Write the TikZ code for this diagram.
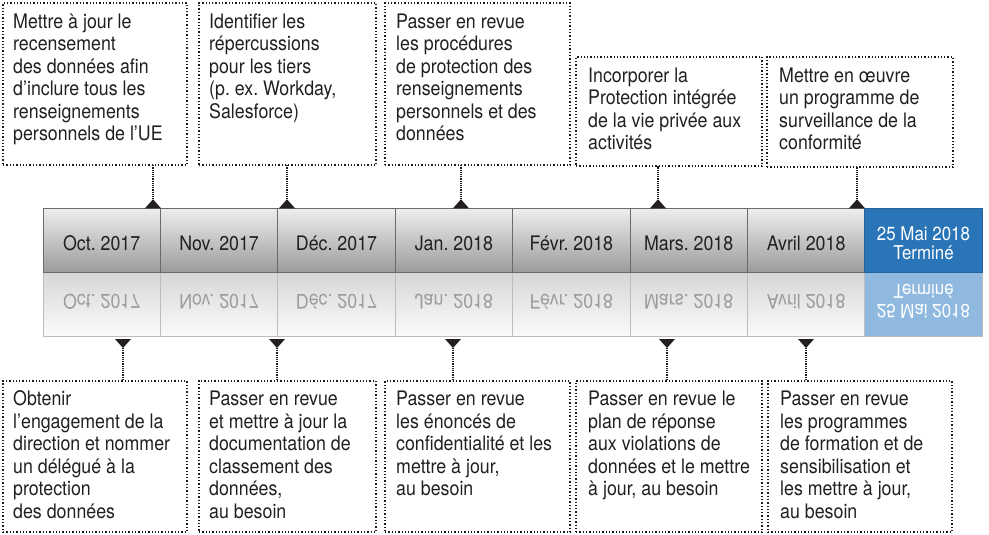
\documentclass[tikz,border=0pt]{standalone}
\usepackage{fontspec}
\setmainfont{TeX Gyre Heros}[FakeStretch=0.89]
\usepackage{graphicx}
\frenchspacing
\definecolor{txt}{HTML}{231F20}
\definecolor{gtop}{HTML}{EEEEEE}
\definecolor{gbot}{HTML}{9C9C9C}
\definecolor{rtop}{HTML}{D6D6D6}
\definecolor{rbot}{HTML}{FBFBFB}
\definecolor{gline}{HTML}{6A6A6A}
\definecolor{rline}{HTML}{BDBDBD}
\definecolor{blueA}{HTML}{2A74B8}
\definecolor{blueB}{HTML}{8FB9DF}
\definecolor{rtxt}{HTML}{9C9C9C}
\definecolor{dotc}{HTML}{1A1A1A}
\newcommand{\mainfs}{\fontsize{20pt}{22.5pt}\selectfont}
\newcommand{\bluelabel}{\begin{tabular}{@{}c@{}}25 Mai 2018\\Terminé\end{tabular}}
\tikzset{
  cellA/.style={draw=gline, line width=0.8pt, top color=gtop, bottom color=gbot,
    minimum width=117.4pt, minimum height=64pt, anchor=north west, inner sep=0pt, outer sep=0pt},
  cellB/.style={draw=rline, line width=0.8pt, top color=rtop, bottom color=rbot,
    minimum width=117.4pt, minimum height=64pt, anchor=north west, inner sep=0pt, outer sep=0pt},
  cellBlueA/.style={draw=blueA!85!black, line width=0.8pt, fill=blueA,
    minimum width=117.4pt, minimum height=64pt, anchor=north west, inner sep=0pt, outer sep=0pt},
  cellBlueB/.style={draw=rline, line width=0.8pt, fill=blueB,
    minimum width=117.4pt, minimum height=64pt, anchor=north west, inner sep=0pt, outer sep=0pt},
  monthlab/.style={font=\mainfs, text=txt, inner sep=0pt, anchor=base},
  monthref/.style={font=\mainfs, text=rtxt, inner sep=0pt, anchor=north},
  bluelab/.style={font=\fontsize{19pt}{18pt}\selectfont, text=white, inner sep=0pt},
  frame/.style={draw=dotc, line width=1.3pt, dash pattern=on 1.3pt off 2pt,
    anchor=north west, inner sep=0pt, outer sep=0pt},
  boxtext/.style={font=\mainfs, text=txt, inner sep=0pt, anchor=base west},
  conn/.style={draw=dotc, line width=1.4pt, dash pattern=on 1.1pt off 1.1pt},
  tri/.style={fill=txt}
}
\begin{document}
\begin{tikzpicture}[x=1pt,y=-1pt]
\useasboundingbox (0,0) rectangle (989,535);

% reflection cells
\foreach \i in {1,...,7}
  \node[cellB] (r\i) at ({43+(\i-1)*117.4},272) {};
\node[cellBlueB] (r8) at ({43+7*117.4},272) {};
% top cells
\foreach \i in {1,...,7}
  \node[cellA] (c\i) at ({43+(\i-1)*117.4},208) {};
\node[cellBlueA] (c8) at ({43+7*117.4},208) {};

% month labels and reflections
\foreach \i/\m in {1/Oct. 2017,2/Nov. 2017,3/Déc. 2017,4/Jan. 2018,5/Févr. 2018,6/Mars. 2018,7/Avril 2018}{
  \node[monthlab] (l\i) at ([yshift=22pt]c\i.south) {\m};
  \node[monthref] (m\i) at ([yshift=-22pt]r\i.north) {\scalebox{1}[-1]{\m}};
}
\node[bluelab] (l8) at ([yshift=-5.4pt]c8.center) {\bluelabel};
\node[bluelab] (m8) at ([yshift=5.4pt]r8.center) {\scalebox{1}[-1]{\bluelabel}};

% top boxes
\node[frame, minimum width=184pt, minimum height=162pt] (T1) at (3,3) {};
\node[frame, minimum width=177pt, minimum height=162pt] (T2) at (199,3) {};
\node[frame, minimum width=185pt, minimum height=162pt] (T3) at (385,3) {};
\node[frame, minimum width=186pt, minimum height=109pt] (T4) at (576,57) {};
\node[frame, minimum width=186pt, minimum height=110pt] (T5) at (767,57) {};

\node[boxtext] (T1t) at (13,28.3) {\parbox[t]{180pt}{\raggedright Mettre à jour le\\recensement\\des données afin\\d’inclure tous les\\renseignements\\personnels de l’UE}};
\node[boxtext] (T2t) at (209,28.3) {\parbox[t]{170pt}{\raggedright Identifier les\\répercussions\\pour les tiers\\(p. ex. Workday,\\Salesforce)}};
\node[boxtext] (T3t) at (396,28.3) {\parbox[t]{175pt}{\raggedright Passer en revue\\les procédures\\de protection des\\renseignements\\personnels et des\\données}};
\node[boxtext] (T4t) at (588,82.3) {\parbox[t]{175pt}{\raggedright Incorporer la\\Protection intégrée\\de la vie privée aux\\activités}};
\node[boxtext] (T5t) at (779,82.3) {\parbox[t]{175pt}{\raggedright Mettre en œuvre\\un programme de\\surveillance de la\\conformité}};

% bottom boxes
\node[frame, minimum width=184pt, minimum height=151pt] (B1) at (3,381) {};
\node[frame, minimum width=177pt, minimum height=151pt] (B2) at (199,381) {};
\node[frame, minimum width=185pt, minimum height=151pt] (B3) at (385,381) {};
\node[frame, minimum width=186pt, minimum height=151pt] (B4) at (576,381) {};
\node[frame, minimum width=184pt, minimum height=151pt] (B5) at (768,381) {};

\node[boxtext] (B1t) at (13,405.7) {\parbox[t]{180pt}{\raggedright Obtenir\\l’engagement de la\\direction et nommer\\un délégué à la\\protection\\des données}};
\node[boxtext] (B2t) at (209,405.7) {\parbox[t]{170pt}{\raggedright Passer en revue\\et mettre à jour la\\documentation de\\classement des\\données,\\au besoin}};
\node[boxtext] (B3t) at (396,405.7) {\parbox[t]{175pt}{\raggedright Passer en revue\\les énoncés de\\confidentialité et les\\mettre à jour,\\au besoin}};
\node[boxtext] (B4t) at (588,405.7) {\parbox[t]{175pt}{\raggedright Passer en revue le\\plan de réponse\\aux violations de\\données et le mettre\\à jour, au besoin}};
\node[boxtext] (B5t) at (780,405.7) {\parbox[t]{175pt}{\raggedright Passer en revue\\les programmes\\de formation et de\\sensibilisation et\\les mettre à jour,\\au besoin}};

% upward markers and connectors
\foreach \x/\b [count=\k] in {153/T1,287/T2,461/T3,658/T4,857/T5}{
  \coordinate (u\k) at (\x,208.3);
  \fill[tri] (u\k) ++(-8,0) -- ++(16,0) -- ++(-8,-9) -- cycle;
  \draw[conn] ([yshift=9pt]u\k) -- (u\k |- \b.south);
}
% downward markers and connectors
\foreach \x/\b [count=\k] in {123/B1,277/B2,453/B3,667/B4,806/B5}{
  \coordinate (d\k) at (\x,339);
  \fill[tri] (d\k) ++(-8,0) -- ++(16,0) -- ++(-8,9) -- cycle;
  \draw[conn] ([yshift=-9pt]d\k) -- (d\k |- \b.north);
}
\end{tikzpicture}
\end{document}
